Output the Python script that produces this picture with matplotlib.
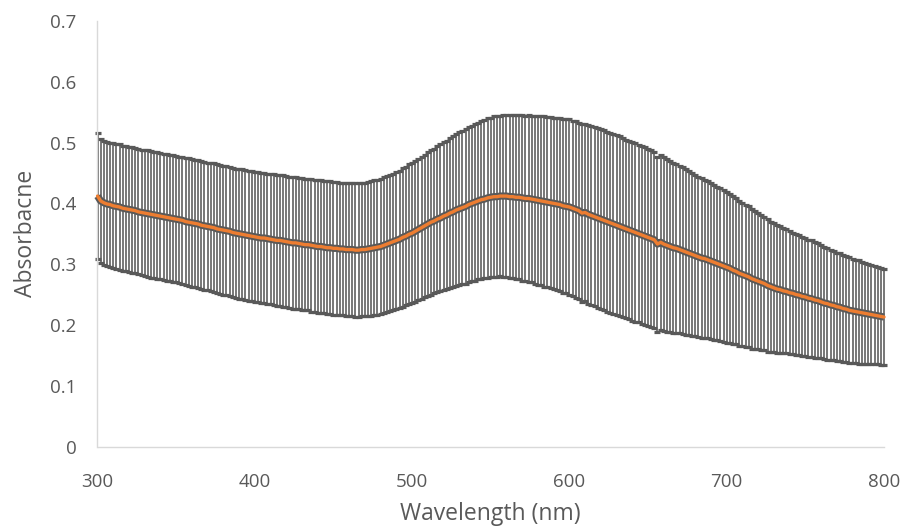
import matplotlib
matplotlib.use("Agg")
import matplotlib.pyplot as plt

wavelength = list(range(300, 801, 2))

absorbance = [
    0.412, 0.404, 0.401, 0.399, 0.398, 0.396, 0.395, 0.394, 0.392, 0.391,
    0.390, 0.389, 0.388, 0.386, 0.385, 0.384, 0.383, 0.382, 0.381, 0.380,
    0.379, 0.378, 0.377, 0.376, 0.375, 0.374, 0.373, 0.372, 0.370, 0.369,
    0.368, 0.367, 0.366, 0.364, 0.363, 0.362, 0.361, 0.360, 0.358, 0.357,
    0.356, 0.355, 0.354, 0.352, 0.351, 0.350, 0.349, 0.348, 0.347, 0.346,
    0.345, 0.344, 0.343, 0.343, 0.342, 0.341, 0.340, 0.339, 0.339, 0.338,
    0.337, 0.336, 0.335, 0.335, 0.334, 0.333, 0.332, 0.332, 0.331, 0.330,
    0.329, 0.329, 0.328, 0.327, 0.327, 0.326, 0.326, 0.325, 0.325, 0.324,
    0.324, 0.324, 0.323, 0.323, 0.324, 0.324, 0.325, 0.326, 0.327, 0.328,
    0.329, 0.331, 0.333, 0.335, 0.337, 0.339, 0.341, 0.344, 0.346, 0.349,
    0.351, 0.354, 0.357, 0.360, 0.363, 0.366, 0.369, 0.371, 0.374, 0.376,
    0.379, 0.381, 0.384, 0.386, 0.389, 0.391, 0.393, 0.395, 0.398, 0.400,
    0.402, 0.404, 0.406, 0.407, 0.409, 0.410, 0.411, 0.411, 0.412, 0.412,
    0.412, 0.411, 0.411, 0.410, 0.410, 0.409, 0.408, 0.408, 0.407, 0.406,
    0.405, 0.404, 0.403, 0.402, 0.401, 0.400, 0.399, 0.398, 0.396, 0.395,
    0.394, 0.392, 0.390, 0.388, 0.384, 0.385, 0.382, 0.380, 0.378, 0.376,
    0.374, 0.372, 0.370, 0.368, 0.366, 0.364, 0.362, 0.360, 0.358, 0.356,
    0.354, 0.352, 0.350, 0.348, 0.346, 0.344, 0.342, 0.340, 0.333, 0.336,
    0.333, 0.331, 0.329, 0.327, 0.326, 0.324, 0.322, 0.320, 0.318, 0.316,
    0.314, 0.312, 0.310, 0.309, 0.307, 0.305, 0.303, 0.301, 0.299, 0.297,
    0.295, 0.293, 0.290, 0.288, 0.285, 0.283, 0.281, 0.279, 0.276, 0.274,
    0.272, 0.270, 0.268, 0.265, 0.263, 0.261, 0.259, 0.258, 0.256, 0.255,
    0.253, 0.252, 0.250, 0.249, 0.247, 0.246, 0.244, 0.243, 0.241, 0.240,
    0.238, 0.236, 0.235, 0.233, 0.232, 0.230, 0.229, 0.227, 0.226, 0.224,
    0.223, 0.222, 0.221, 0.220, 0.219, 0.218, 0.217, 0.216, 0.215, 0.214,
    0.213,
]

error = [
    0.103, 0.102, 0.102, 0.102, 0.102, 0.103, 0.103, 0.103, 0.103, 0.103,
    0.103, 0.103, 0.103, 0.103, 0.103, 0.104, 0.104, 0.104, 0.104, 0.104,
    0.104, 0.104, 0.104, 0.104, 0.104, 0.104, 0.104, 0.105, 0.105, 0.105,
    0.105, 0.105, 0.105, 0.105, 0.105, 0.105, 0.106, 0.106, 0.106, 0.106,
    0.106, 0.106, 0.106, 0.106, 0.106, 0.107, 0.107, 0.107, 0.107, 0.107,
    0.107, 0.107, 0.107, 0.107, 0.107, 0.107, 0.108, 0.108, 0.108, 0.108,
    0.108, 0.108, 0.108, 0.108, 0.108, 0.108, 0.108, 0.108, 0.109, 0.109,
    0.109, 0.109, 0.109, 0.109, 0.109, 0.109, 0.109, 0.109, 0.109, 0.109,
    0.110, 0.110, 0.110, 0.110, 0.110, 0.110, 0.110, 0.111, 0.111, 0.111,
    0.111, 0.112, 0.112, 0.112, 0.112, 0.113, 0.113, 0.114, 0.114, 0.115,
    0.115, 0.116, 0.116, 0.117, 0.117, 0.118, 0.119, 0.119, 0.120, 0.121,
    0.122, 0.122, 0.123, 0.124, 0.125, 0.126, 0.126, 0.127, 0.128, 0.128,
    0.129, 0.129, 0.130, 0.130, 0.131, 0.131, 0.132, 0.132, 0.132, 0.133,
    0.133, 0.134, 0.134, 0.135, 0.135, 0.136, 0.136, 0.137, 0.137, 0.138,
    0.139, 0.139, 0.140, 0.140, 0.141, 0.141, 0.142, 0.142, 0.143, 0.143,
    0.144, 0.144, 0.145, 0.145, 0.146, 0.146, 0.147, 0.147, 0.147, 0.148,
    0.148, 0.148, 0.148, 0.148, 0.148, 0.148, 0.148, 0.147, 0.147, 0.147,
    0.147, 0.147, 0.146, 0.146, 0.146, 0.145, 0.145, 0.145, 0.144, 0.144,
    0.143, 0.142, 0.141, 0.140, 0.139, 0.138, 0.137, 0.136, 0.135, 0.134,
    0.133, 0.132, 0.131, 0.130, 0.129, 0.128, 0.127, 0.126, 0.126, 0.125,
    0.124, 0.123, 0.122, 0.120, 0.119, 0.118, 0.117, 0.116, 0.115, 0.113,
    0.112, 0.111, 0.110, 0.109, 0.107, 0.106, 0.105, 0.104, 0.103, 0.102,
    0.101, 0.100, 0.100, 0.099, 0.098, 0.097, 0.096, 0.096, 0.095, 0.094,
    0.093, 0.092, 0.092, 0.091, 0.090, 0.089, 0.089, 0.088, 0.087, 0.087,
    0.086, 0.085, 0.085, 0.084, 0.083, 0.082, 0.082, 0.081, 0.080, 0.080,
    0.079,
]

x_ticks = [300, 400, 500, 600, 700, 800]
y_ticks = [0, 0.1, 0.2, 0.3, 0.4, 0.5, 0.6, 0.7]
y_tick_labels = ["0", "0.1", "0.2", "0.3", "0.4", "0.5", "0.6", "0.7"]
x_label = "Wavelength (nm)"
y_label = "Absorbacne"

plt.rcParams["font.family"] = ["Open Sans", "DejaVu Sans"]
text_color = "#595959"

W, H = 903, 531
fig = plt.figure(figsize=(W / 100, H / 100), dpi=100)
left, right, bottom, top = 97.5, 884.0, 446.5, 21.0
ax = fig.add_axes([left / W, 1 - bottom / H, (right - left) / W, (bottom - top) / H])

eb = ax.errorbar(wavelength, absorbance, yerr=error, fmt="none",
                 ecolor="#595959", elinewidth=1.15, capsize=2.4, capthick=2.3,
                 zorder=2)
for art in eb.lines[1]:
    art.set_clip_on(False)
for art in eb.lines[2]:
    art.set_clip_on(False)

ax.plot(wavelength, absorbance, color="#595959", lw=5.2, zorder=3,
        solid_capstyle="butt", clip_on=False)
ax.plot(wavelength, absorbance, color="#ED7D31", lw=2.4, zorder=4,
        solid_capstyle="round", clip_on=False)

ax.set_xlim(300, 800)
ax.set_ylim(0, 0.7)
ax.set_xticks(x_ticks)
ax.set_yticks(y_ticks)
ax.set_yticklabels(y_tick_labels)

for s in ["top", "right"]:
    ax.spines[s].set_visible(False)
for s in ["left", "bottom"]:
    ax.spines[s].set_color("#d9d9d9")
    ax.spines[s].set_linewidth(1.0)

ax.tick_params(axis="both", length=0, labelsize=13.5, labelcolor=text_color)
ax.tick_params(axis="x", pad=19)
ax.tick_params(axis="y", pad=15)

ax.set_xlabel(x_label, fontsize=16.5, color=text_color, labelpad=8)
ax.set_ylabel(y_label, fontsize=16.5, color=text_color, labelpad=9)

fig.savefig("out.png", dpi=100)
